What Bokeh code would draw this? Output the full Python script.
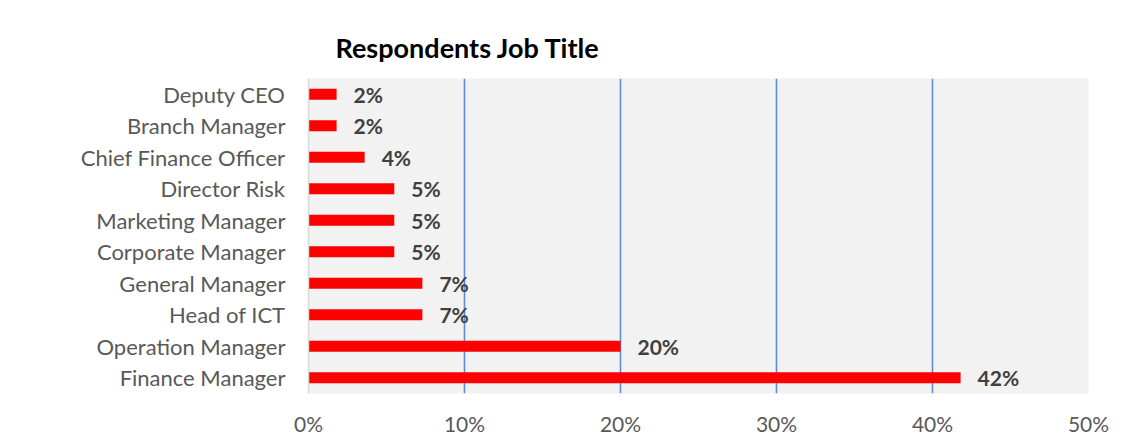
from bokeh.plotting import figure
from bokeh.models import FactorRange, Range1d, FixedTicker, Title
from bokeh.core.properties import value
from bokeh.embed import file_html
from bokeh.resources import INLINE

# data (bottom to top)
categories = ["Finance Manager", "Operation Manager", "Head of ICT", "General Manager",
              "Corporate Manager", "Marketing Manager", "Director Risk",
              "Chief Finance Officer", "Branch Manager", "Deputy CEO"]
shares = [41.8, 20.0, 7.3, 7.3, 5.5, 5.5, 5.5, 3.6, 1.8, 1.8]
share_labels = ["42%", "20%", "7%", "7%", "5%", "5%", "5%", "4%", "2%", "2%"]
x_ticks = [0, 10, 20, 30, 40, 50]
x_tick_labels = ["0%", "10%", "20%", "30%", "40%", "50%"]

FONT = "Lato"

p = figure(y_range=FactorRange(*categories, range_padding=0),
           x_range=Range1d(0, 50),
           frame_width=780, frame_height=315,
           min_border_left=308, min_border_right=28,
           min_border_top=78, min_border_bottom=42,
           output_backend="svg", toolbar_location=None)

p.background_fill_color = "#F2F2F2"
p.border_fill_color = "white"
p.outline_line_color = None

p.hbar(y=categories, right=shares, left=0, height=0.35,
       fill_color="#FF0000", line_color=None)

p.text(x=shares, y=categories, text=share_labels, x_offset=17,
       text_baseline="middle", text_align="left",
       text_font=value(FONT), text_font_style="bold",
       text_font_size="21px", text_color="#404040")

# grid
p.ygrid.grid_line_color = None
p.xgrid.ticker = FixedTicker(ticks=x_ticks)
p.xgrid.grid_line_color = "#5B8ED6"
p.xgrid.grid_line_width = 1.6

# x axis
p.xaxis.ticker = FixedTicker(ticks=x_ticks)
p.xaxis.major_label_overrides = dict(zip(x_ticks, x_tick_labels))
p.xaxis.axis_line_color = None
p.xaxis.major_tick_line_color = None
p.xaxis.minor_tick_line_color = None
p.xaxis.major_label_standoff = 11
p.xaxis.major_label_text_font = FONT
p.xaxis.major_label_text_font_size = "21px"
p.xaxis.major_label_text_color = "#595959"

# y axis
p.yaxis.axis_line_color = "#D9D9D9"
p.yaxis.axis_line_width = 1.5
p.yaxis.major_tick_line_color = None
p.yaxis.minor_tick_line_color = None
p.yaxis.major_label_standoff = 17
p.yaxis.major_label_text_font = FONT
p.yaxis.major_label_text_font_size = "22px"
p.yaxis.major_label_text_color = "#595959"

p.title = Title(text="Respondents Job Title", align="left", offset=27,
                text_font=FONT, text_font_style="bold",
                text_font_size="27px", text_color="#000000", standoff=29)

open("out.html", "w").write(file_html(p, INLINE))
